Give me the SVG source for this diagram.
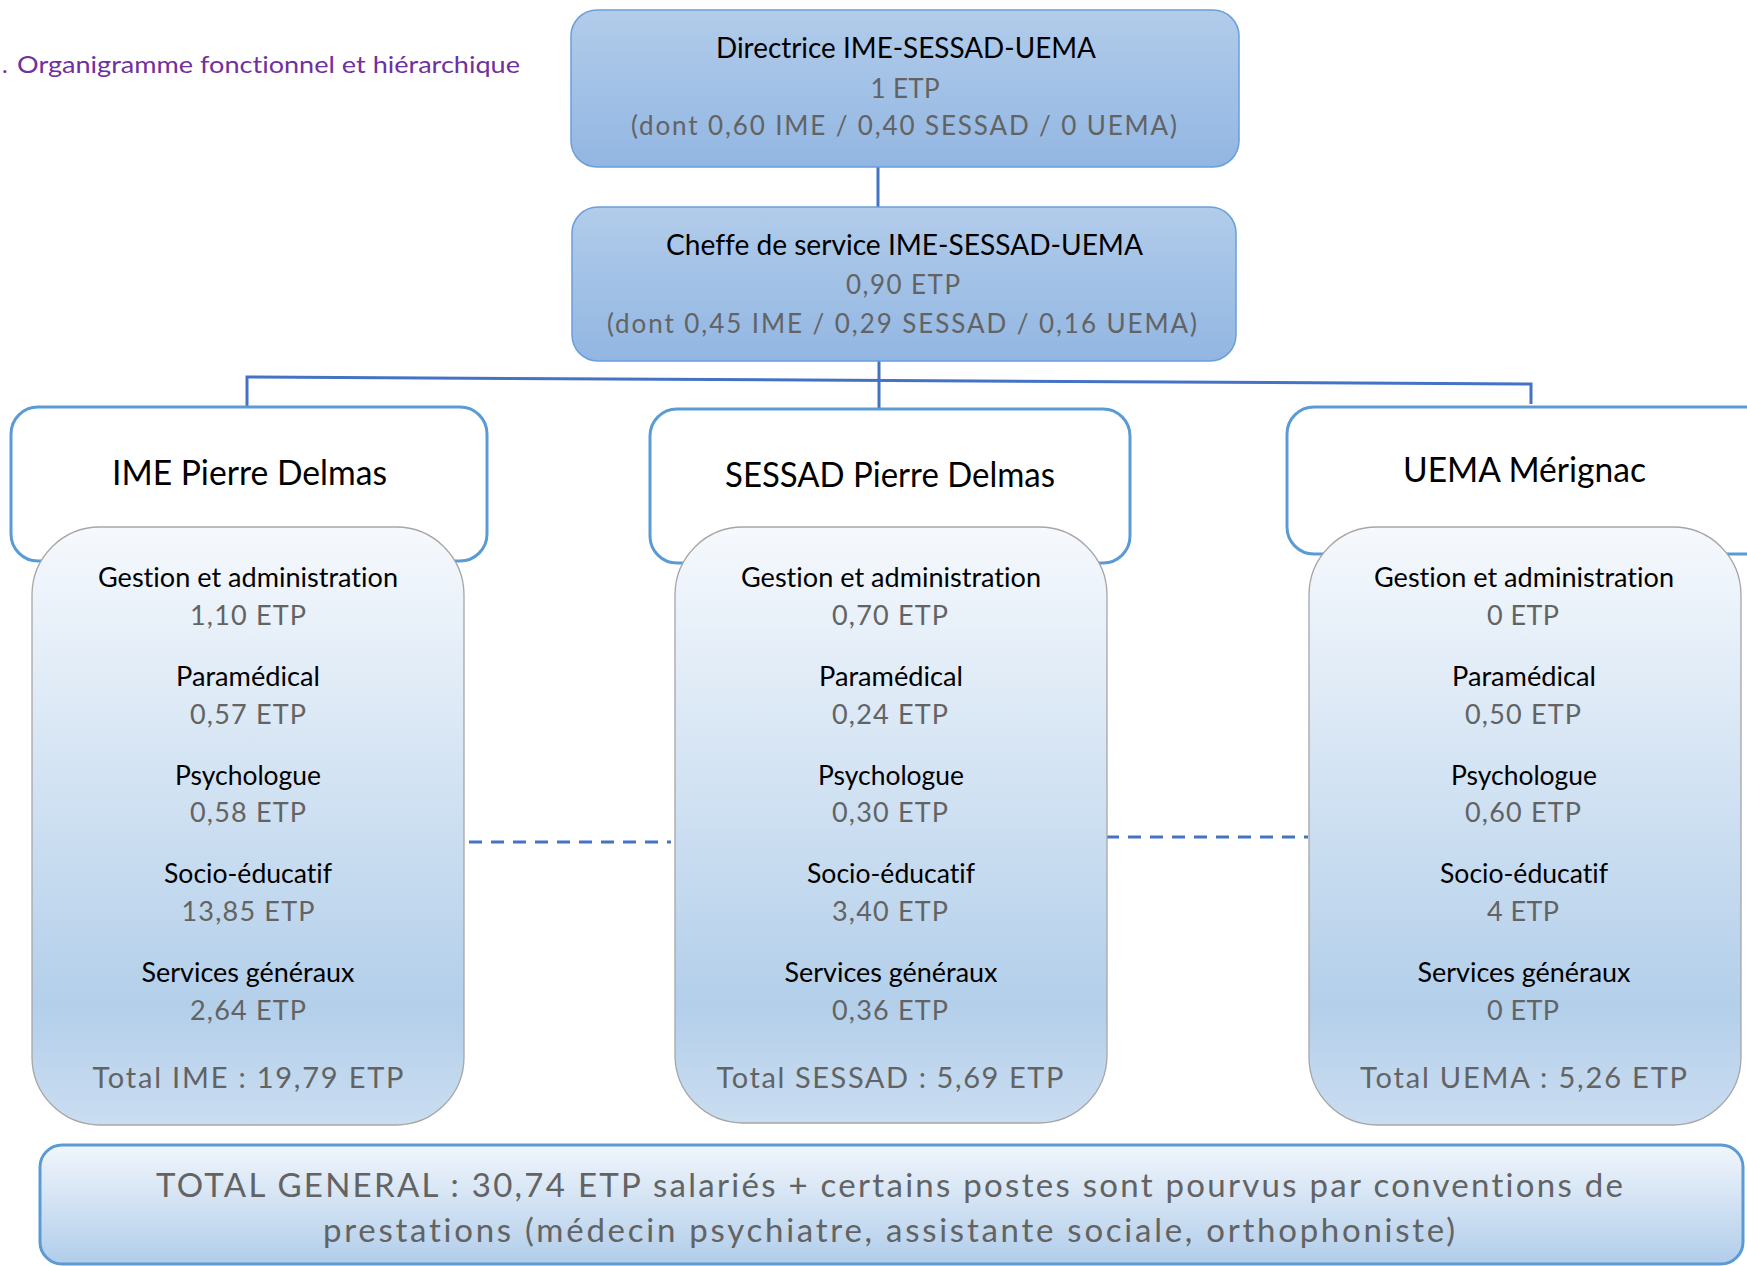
<svg xmlns="http://www.w3.org/2000/svg" width="1747" height="1266" viewBox="0 0 1747 1266">
<defs>
<linearGradient id="gTop" x1="0" y1="0" x2="0" y2="1">
<stop offset="0" stop-color="#B2CCEA"/>
<stop offset="1" stop-color="#92B6E2"/>
</linearGradient>
<linearGradient id="gContent" x1="0" y1="0" x2="0" y2="1">
<stop offset="0" stop-color="#F6F9FD"/>
<stop offset="0.8" stop-color="#B3CFEA"/>
<stop offset="1" stop-color="#CADDF1"/>
</linearGradient>
<linearGradient id="gBottom" x1="0" y1="0" x2="0" y2="1">
<stop offset="0" stop-color="#F1F6FC"/>
<stop offset="1" stop-color="#B1CDEA"/>
</linearGradient>
<style>
text{font-family:Lato,"Noto Sans","Liberation Sans",sans-serif;text-anchor:middle;font-variant-ligatures:none}
.blk{fill:#000;font-size:26px}
.val{fill:#636363;font-size:27px;font-weight:400}
.tot{fill:#636363;font-size:29px;font-weight:400}
.hd{fill:#000;font-size:35px}
.top{fill:url(#gTop);stroke:#6B9FDA;stroke-width:1.5}
.hdr{fill:#fff;stroke:#5B9BD5;stroke-width:3}
.cnt{fill:url(#gContent);stroke:#A6A6A6;stroke-width:1.3}
.con{fill:none;stroke:#4472C4;stroke-width:3}
.dash{fill:none;stroke:#4472C4;stroke-width:3.2;stroke-dasharray:13 9}
</style>
</defs>
<rect width="1747" height="1266" fill="#fff"/>

<g id="title">
<text x="2" y="73" style="fill:#7030A0;font-size:24px;text-anchor:start">.</text>
<text x="17" y="73" textLength="503" lengthAdjust="spacingAndGlyphs" style="fill:#7030A0;font-size:24px;text-anchor:start">Organigramme fonctionnel et hiérarchique</text>
</g>

<g id="connectors">
<line class="con" x1="878" y1="167" x2="878" y2="207"/>
<line class="con" x1="879" y1="361" x2="879" y2="408"/>
<polyline class="con" points="247,407 247,377 1531,384 1531,404"/>
<line class="dash" x1="469" y1="842" x2="671" y2="842"/>
<line class="dash" x1="1106" y1="837" x2="1308" y2="837"/>
</g>

<g id="directrice">
<rect class="top" x="571" y="10" width="668" height="157" rx="26"/>
<text class="blk" x="906" y="58" style="font-size:28px" textLength="380" lengthAdjust="spacingAndGlyphs">Directrice IME-SESSAD-UEMA</text>
<text class="val" x="905" y="98" style="font-size:26px" textLength="69" lengthAdjust="spacing">1 ETP</text>
<text class="val" x="904" y="135" style="font-size:26px" textLength="546" lengthAdjust="spacing">(dont 0,60 IME / 0,40 SESSAD / 0 UEMA)</text>
</g>

<g id="cheffe">
<rect class="top" x="572" y="207" width="664" height="154" rx="26"/>
<text class="blk" x="904.5" y="255" style="font-size:28px" textLength="477" lengthAdjust="spacingAndGlyphs">Cheffe de service IME-SESSAD-UEMA</text>
<text class="val" x="903" y="294" style="font-size:26px" textLength="114" lengthAdjust="spacing">0,90 ETP</text>
<text class="val" x="902" y="333" style="font-size:26px" textLength="590" lengthAdjust="spacing">(dont 0,45 IME / 0,29 SESSAD / 0,16 UEMA)</text>
</g>

<g id="ime-header">
<rect class="hdr" x="11" y="407" width="476" height="154" rx="27"/>
<text class="hd" x="249.5" y="485" textLength="275" lengthAdjust="spacingAndGlyphs">IME Pierre Delmas</text>
</g>
<g id="sessad-header">
<rect class="hdr" x="650" y="409" width="480" height="154" rx="27"/>
<text class="hd" x="890" y="487" textLength="330" lengthAdjust="spacingAndGlyphs">SESSAD Pierre Delmas</text>
</g>
<g id="uema-header">
<rect class="hdr" x="1287" y="407" width="485" height="147" rx="27"/>
<text class="hd" x="1524.5" y="482" textLength="243" lengthAdjust="spacingAndGlyphs">UEMA Mérignac</text>
</g>

<g id="ime-content">
<rect class="cnt" x="32" y="527" width="432" height="598" rx="68"/>
<text class="blk" x="248" y="587" textLength="300" lengthAdjust="spacingAndGlyphs">Gestion et administration</text>
<text class="val" x="248" y="625" textLength="116" lengthAdjust="spacing">1,10 ETP</text>
<text class="blk" x="248" y="686" textLength="144" lengthAdjust="spacingAndGlyphs">Paramédical</text>
<text class="val" x="248" y="724" textLength="116" lengthAdjust="spacing">0,57 ETP</text>
<text class="blk" x="248" y="785" textLength="146" lengthAdjust="spacingAndGlyphs">Psychologue</text>
<text class="val" x="248" y="822" textLength="116" lengthAdjust="spacing">0,58 ETP</text>
<text class="blk" x="248" y="883" textLength="168" lengthAdjust="spacingAndGlyphs">Socio-éducatif</text>
<text class="val" x="248" y="921" textLength="133" lengthAdjust="spacing">13,85 ETP</text>
<text class="blk" x="248" y="982" textLength="213" lengthAdjust="spacingAndGlyphs">Services généraux</text>
<text class="val" x="248" y="1020" textLength="116" lengthAdjust="spacing">2,64 ETP</text>
<text class="tot" x="248" y="1088" textLength="311" lengthAdjust="spacing">Total IME : 19,79 ETP</text>
</g>

<g id="sessad-content">
<rect class="cnt" x="675" y="527" width="432" height="596" rx="68"/>
<text class="blk" x="891" y="587" textLength="300" lengthAdjust="spacingAndGlyphs">Gestion et administration</text>
<text class="val" x="890" y="625" textLength="116" lengthAdjust="spacing">0,70 ETP</text>
<text class="blk" x="891" y="686" textLength="144" lengthAdjust="spacingAndGlyphs">Paramédical</text>
<text class="val" x="890" y="724" textLength="116" lengthAdjust="spacing">0,24 ETP</text>
<text class="blk" x="891" y="785" textLength="146" lengthAdjust="spacingAndGlyphs">Psychologue</text>
<text class="val" x="890" y="822" textLength="116" lengthAdjust="spacing">0,30 ETP</text>
<text class="blk" x="891" y="883" textLength="168" lengthAdjust="spacingAndGlyphs">Socio-éducatif</text>
<text class="val" x="890" y="921" textLength="116" lengthAdjust="spacing">3,40 ETP</text>
<text class="blk" x="891" y="982" textLength="213" lengthAdjust="spacingAndGlyphs">Services généraux</text>
<text class="val" x="890" y="1020" textLength="116" lengthAdjust="spacing">0,36 ETP</text>
<text class="tot" x="890" y="1088" textLength="347" lengthAdjust="spacing">Total SESSAD : 5,69 ETP</text>
</g>

<g id="uema-content">
<rect class="cnt" x="1309" y="527" width="432" height="598" rx="68"/>
<text class="blk" x="1524" y="587" textLength="300" lengthAdjust="spacingAndGlyphs">Gestion et administration</text>
<text class="val" x="1523" y="625" textLength="72" lengthAdjust="spacing">0 ETP</text>
<text class="blk" x="1524" y="686" textLength="144" lengthAdjust="spacingAndGlyphs">Paramédical</text>
<text class="val" x="1523" y="724" textLength="116" lengthAdjust="spacing">0,50 ETP</text>
<text class="blk" x="1524" y="785" textLength="146" lengthAdjust="spacingAndGlyphs">Psychologue</text>
<text class="val" x="1523" y="822" textLength="116" lengthAdjust="spacing">0,60 ETP</text>
<text class="blk" x="1524" y="883" textLength="168" lengthAdjust="spacingAndGlyphs">Socio-éducatif</text>
<text class="val" x="1523" y="921" textLength="72" lengthAdjust="spacing">4 ETP</text>
<text class="blk" x="1524" y="982" textLength="213" lengthAdjust="spacingAndGlyphs">Services généraux</text>
<text class="val" x="1523" y="1020" textLength="72" lengthAdjust="spacing">0 ETP</text>
<text class="tot" x="1523.5" y="1088" textLength="327" lengthAdjust="spacing">Total UEMA : 5,26 ETP</text>
</g>

<g id="total-general">
<rect x="40" y="1145" width="1703" height="119" rx="22" fill="url(#gBottom)" stroke="#5B9BD5" stroke-width="3"/>
<text class="tot" x="889.5" y="1197" style="font-size:33px" textLength="1467" lengthAdjust="spacing">TOTAL GENERAL : 30,74 ETP salariés + certains postes sont pourvus par conventions de</text>
<text class="tot" x="889" y="1242" style="font-size:33px" textLength="1132" lengthAdjust="spacing">prestations (médecin psychiatre, assistante sociale, orthophoniste)</text>
</g>
</svg>
